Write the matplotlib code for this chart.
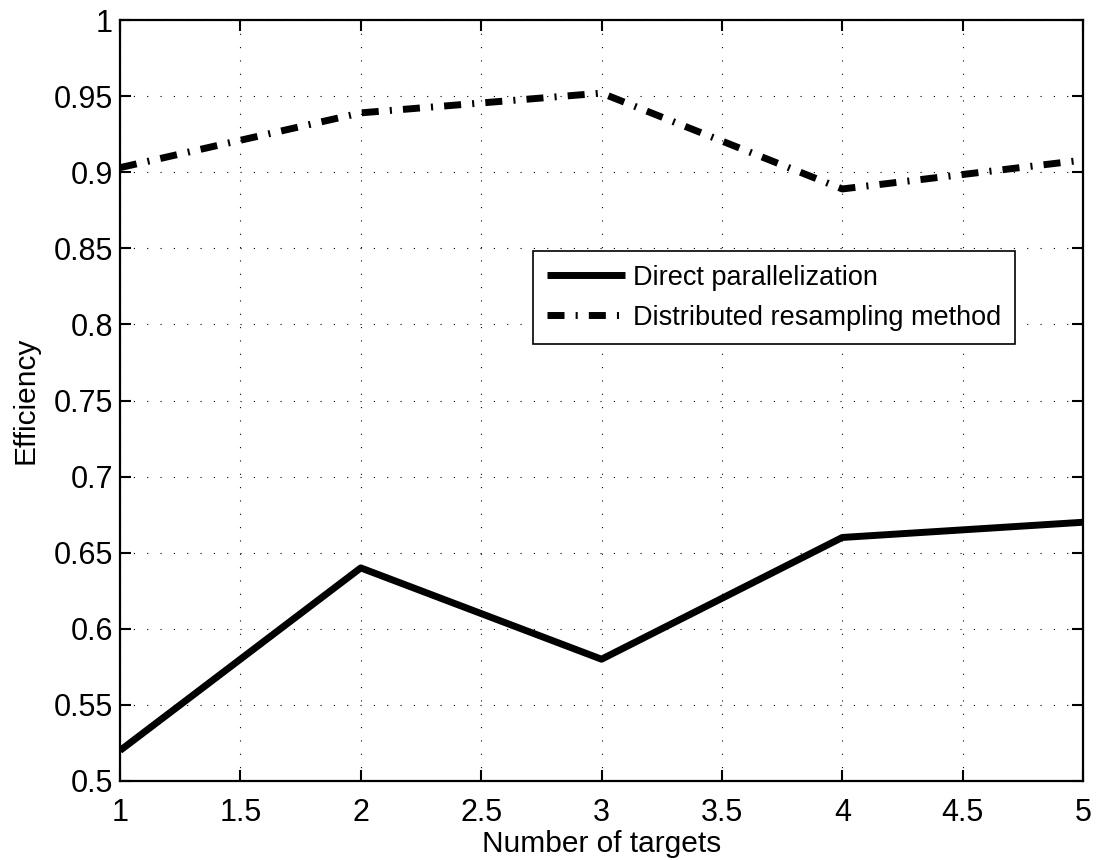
import matplotlib
matplotlib.use("Agg")
import matplotlib.pyplot as plt

targets = [1, 2, 3, 4, 5]
direct = [0.52, 0.64, 0.58, 0.66, 0.67]
distributed = [0.903, 0.939, 0.952, 0.889, 0.908]
xticks = [1, 1.5, 2, 2.5, 3, 3.5, 4, 4.5, 5]
yticks = [0.5, 0.55, 0.6, 0.65, 0.7, 0.75, 0.8, 0.85, 0.9, 0.95, 1.0]
ytick_labels = ["0.5", "0.55", "0.6", "0.65", "0.7", "0.75", "0.8", "0.85", "0.9", "0.95", "1"]

plt.rcParams['font.family'] = ['Liberation Sans', 'DejaVu Sans']

fig = plt.figure(figsize=(11.02, 8.6), dpi=100)
ax = fig.add_axes([0.1089, 0.0919, 0.8739, 0.8848])

ax.plot(targets, direct, color='black', lw=5, solid_capstyle='butt',
        label='Direct parallelization', zorder=3)
ln, = ax.plot(targets, distributed, color='black', lw=5,
              label='Distributed resampling method', zorder=3)
ln.set_dashes([2.45, 1.6, 0.3, 1.6])
ln.set_dash_capstyle('butt')

ax.set_xlim(1, 5)
ax.set_ylim(0.5, 1.0)
ax.set_xticks(xticks)
ax.set_xticklabels([("%g" % v) for v in xticks])
ax.set_yticks(yticks)
ax.set_yticklabels(ytick_labels)

ax.grid(True, color='black', lw=0.8, linestyle=(0, (1, 11)))
ax.tick_params(direction='in', length=8, width=1.5, labelsize=22,
               top=True, right=True)
ax.tick_params(axis='x', pad=12)
ax.tick_params(axis='y', pad=5)
for s in ax.spines.values():
    s.set_linewidth(1.6)

ax.set_xlabel('Number of targets', fontsize=21.5, labelpad=2)
ax.set_ylabel('Efficiency', fontsize=21.5, labelpad=10)

leg = ax.legend(loc='upper left', bbox_to_anchor=(0.4289, 0.6965), fontsize=19.5,
                handlelength=2.9, handletextpad=0.3, labelspacing=0.52,
                borderpad=0.5, borderaxespad=0, fancybox=False, framealpha=1)
leg.get_frame().set_edgecolor('black')
leg.get_frame().set_linewidth(1.2)

fig.savefig('out.png', dpi=100)
